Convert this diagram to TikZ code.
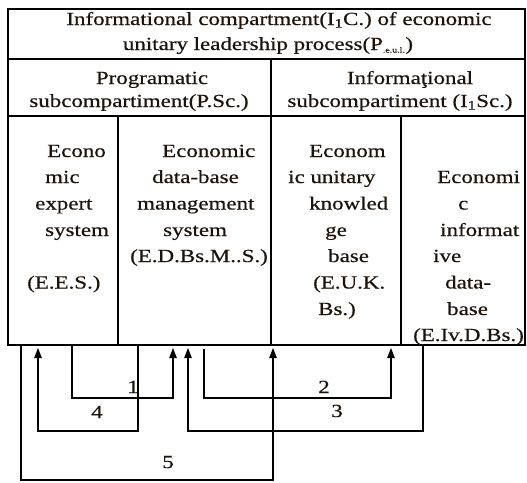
\documentclass[tikz,border=0pt]{standalone}
\usepackage{fontspec}
\setmainfont[FakeStretch=1.24,FakeBold=0.5]{Liberation Serif}
\usetikzlibrary{arrows.meta}
\begin{document}
\begin{tikzpicture}[x=1pt,y=-1pt,
  grid/.style={line width=1.3pt,black},
  conn/.style={line width=1.2pt,black},
  arr/.style={conn,-{Triangle[length=10pt,width=7.5pt]}},
  txt/.style={inner sep=0pt,anchor=base west,font=\fontsize{18.5}{22}\selectfont,text=black!85!brown},
  ctxt/.style={txt,anchor=base},
  lbl/.style={inner sep=0pt,anchor=base,font=\fontsize{18.5}{22}\selectfont,text=black!85!brown}]
\useasboundingbox (0,0) rectangle (527,482);
% table
\coordinate (tl) at (8,9);
\coordinate (br) at (525,345);
\draw[grid] (tl) rectangle (br);
\draw[grid] (8,59) -- (525,59);
\draw[grid] (8,116) -- (525,116);
\draw[grid] (271,59) -- (271,345);
\draw[grid] (118,116) -- (118,345);
\draw[grid] (401,116) -- (401,345);
% title
\node[ctxt] (t1) at (279,25) {Informational compartment(I\textsubscript{1}C.) of economic};
\node[ctxt] (t2) at (268,50) {unitary leadership process(P\textsubscript{\fontsize{8}{8}\selectfont.e.u.l.})};
\node[ctxt] (h1) at (152,84) {Programatic};
\node[ctxt] (h2) at (139,107) {subcompartiment(P.Sc.)};
\node[ctxt] (h3) at (410,84) {Informaţional};
\node[ctxt] (h4) at (400,107) {subcompartiment (I\textsubscript{1}Sc.)};
% cell 1
\node[txt] (a1) at (47,157) {Econo};
\node[txt] (a2) at (45,183) {mic};
\node[txt] (a3) at (35,209.5) {expert};
\node[txt] (a4) at (45,236) {system};
\node[txt] (a5) at (27,288.5) {(E.E.S.)};
% cell 2
\node[txt] (b1) at (162,157) {Economic};
\node[txt] (b2) at (152,183) {data-base};
\node[txt] (b3) at (137,209.5) {management};
\node[txt] (b4) at (163,236) {system};
\node[txt] (b5) at (130,262) {(E.D.Bs.M..S.)};
% cell 3
\node[txt] (c1) at (309,157) {Econom};
\node[txt] (c2) at (288,183) {ic unitary};
\node[txt] (c3) at (309,209.5) {knowled};
\node[txt] (c4) at (325,236) {ge};
\node[txt] (c5) at (328,262) {base};
\node[txt] (c6) at (313,288.5) {(E.U.K.};
\node[txt] (c7) at (318,315) {Bs.)};
% cell 4
\node[txt] (d1) at (437,183) {Economi};
\node[txt] (d2) at (458,209.5) {c};
\node[txt] (d3) at (440,236) {informat};
\node[txt] (d4) at (433,262) {ive};
\node[txt] (d5) at (445,288.5) {data-};
\node[txt] (d6) at (447,315) {base};
\node[txt] (d7) at (413,341) {(E.Iv.D.Bs.)};
% connector end points
\coordinate (s1) at (72,345);   \coordinate (e1) at (173,348);
\coordinate (s2) at (204,349);  \coordinate (e2) at (391,348);
\coordinate (s3) at (423,345);  \coordinate (e3) at (188,348);
\coordinate (s4) at (138,345);  \coordinate (e4) at (38,348);
\coordinate (s5) at (21,345);   \coordinate (e5) at (273,348);
\draw[arr] (s1) -- (72,398) -| (e1);
\draw[arr] (s2) -- (204,398) -| (e2);
\draw[arr] (s3) -- (423,431) -| (e3);
\draw[arr] (s4) -- (138,431) -| (e4);
\draw[arr] (s5) -- (21,480) -| (e5);
\node[lbl] (l1) at (133,393) {1};
\node[lbl] (l2) at (324,393) {2};
\node[lbl] (l3) at (337,417) {3};
\node[lbl] (l4) at (97,418) {4};
\node[lbl] (l5) at (168,468) {5};
\end{tikzpicture}
\end{document}
